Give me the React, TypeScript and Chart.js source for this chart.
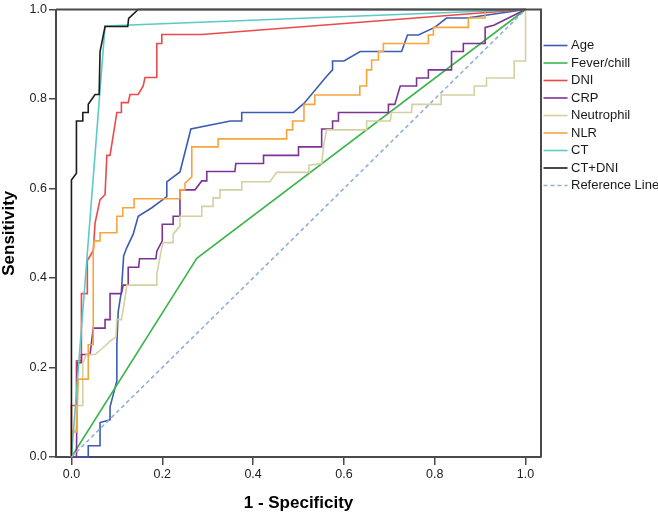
import React, { useEffect, useRef } from 'react';
import { Chart, registerables } from 'chart.js';

Chart.register(...registerables);

type Pt = [number, number];

const xTicks = [0, 0.2, 0.4, 0.6, 0.8, 1.0];
const yTicks = [0, 0.2, 0.4, 0.6, 0.8, 1.0];

const seriesNames = ['Age', 'Fever/chill', 'DNI', 'CRP', 'Neutrophil', 'NLR', 'CT', 'CT+DNI', 'Reference Line'];
const seriesColors = ['#3c5cb4', '#3db54c', '#ea4a4c', '#7d3394', '#d5d0a2', '#f6a53c', '#5ccac6', '#1c1c1c', '#8db0da'];

// ROC points: [1 - specificity, sensitivity]
const age: Pt[] = [
  [0, 0], [0.037, 0], [0.037, 0.025], [0.063, 0.025], [0.063, 0.077], [0.085, 0.083], [0.085, 0.112],
  [0.1, 0.17], [0.1, 0.252], [0.103, 0.325], [0.11, 0.37], [0.115, 0.45], [0.122, 0.468], [0.136, 0.498],
  [0.147, 0.538], [0.177, 0.557], [0.21, 0.582], [0.21, 0.615], [0.239, 0.637], [0.263, 0.733],
  [0.35, 0.751], [0.375, 0.751], [0.375, 0.77], [0.489, 0.77], [0.512, 0.79], [0.562, 0.851],
  [0.575, 0.865], [0.575, 0.885], [0.6, 0.885], [0.636, 0.906], [0.727, 0.906], [0.74, 0.943],
  [0.764, 0.943], [0.8, 0.96], [0.826, 0.981], [0.87, 0.981], [1, 1],
];
const feverChill: Pt[] = [[0, 0], [0.276, 0.444], [1, 1]];
const dni: Pt[] = [
  [0, 0], [0, 0.115], [0.011, 0.115], [0.011, 0.215], [0.022, 0.215], [0.022, 0.365], [0.035, 0.365],
  [0.035, 0.439], [0.048, 0.461], [0.052, 0.523], [0.063, 0.575], [0.074, 0.586], [0.078, 0.674],
  [0.085, 0.674], [0.1, 0.77], [0.11, 0.77], [0.11, 0.792], [0.125, 0.792], [0.129, 0.81], [0.147, 0.81],
  [0.158, 0.829], [0.162, 0.848], [0.188, 0.848], [0.188, 0.924], [0.199, 0.924], [0.199, 0.944],
  [0.287, 0.944], [1, 1],
];
const crp: Pt[] = [
  [0, 0], [0.011, 0], [0.013, 0.211], [0.022, 0.211], [0.022, 0.229], [0.041, 0.229], [0.048, 0.288],
  [0.074, 0.288], [0.074, 0.307], [0.085, 0.307], [0.085, 0.365], [0.11, 0.365], [0.114, 0.384],
  [0.125, 0.384], [0.125, 0.424], [0.148, 0.424], [0.15, 0.443], [0.186, 0.443], [0.188, 0.46],
  [0.2, 0.483], [0.2, 0.52], [0.224, 0.52], [0.224, 0.538], [0.239, 0.538], [0.239, 0.597],
  [0.272, 0.597], [0.287, 0.617], [0.298, 0.617], [0.298, 0.638], [0.36, 0.638], [0.362, 0.656],
  [0.423, 0.656], [0.423, 0.674], [0.5, 0.674], [0.5, 0.693], [0.551, 0.693], [0.551, 0.733],
  [0.575, 0.733], [0.575, 0.751], [0.588, 0.751], [0.588, 0.77], [0.698, 0.77], [0.698, 0.788],
  [0.712, 0.788], [0.724, 0.829], [0.76, 0.829], [0.76, 0.847], [0.786, 0.847], [0.786, 0.865],
  [0.837, 0.865], [0.837, 0.906], [0.863, 0.906], [0.863, 0.924], [0.911, 0.924], [0.911, 0.96],
  [0.93, 0.965], [1, 1],
];
const neutrophil: Pt[] = [
  [0, 0], [0, 0.06], [0.011, 0.06], [0.011, 0.115], [0.025, 0.115], [0.025, 0.21], [0.033, 0.229],
  [0.052, 0.229], [0.074, 0.248], [0.085, 0.259], [0.098, 0.268], [0.1, 0.307], [0.11, 0.307],
  [0.114, 0.33], [0.122, 0.384], [0.188, 0.384], [0.188, 0.409], [0.199, 0.468], [0.202, 0.479],
  [0.224, 0.479], [0.224, 0.498], [0.239, 0.516], [0.239, 0.538], [0.287, 0.538], [0.287, 0.56],
  [0.312, 0.56], [0.312, 0.579], [0.327, 0.579], [0.327, 0.597], [0.375, 0.597], [0.375, 0.615],
  [0.437, 0.615], [0.452, 0.636], [0.523, 0.636], [0.523, 0.652], [0.551, 0.656], [0.556, 0.7],
  [0.562, 0.731], [0.65, 0.731], [0.65, 0.751], [0.702, 0.751], [0.705, 0.77], [0.749, 0.77],
  [0.75, 0.788], [0.814, 0.788], [0.814, 0.809], [0.887, 0.809], [0.887, 0.829], [0.914, 0.829],
  [0.914, 0.847], [0.975, 0.847], [0.975, 0.885], [1, 0.885], [1, 1],
];
const nlr: Pt[] = [
  [0, 0], [0, 0.056], [0.011, 0.056], [0.015, 0.174], [0.037, 0.174], [0.037, 0.251], [0.048, 0.251],
  [0.048, 0.457], [0.05, 0.483], [0.063, 0.483], [0.063, 0.501], [0.1, 0.501], [0.1, 0.538],
  [0.113, 0.538], [0.113, 0.557], [0.138, 0.557], [0.138, 0.577], [0.239, 0.577], [0.239, 0.597],
  [0.25, 0.597], [0.25, 0.612], [0.265, 0.626], [0.265, 0.693], [0.323, 0.693], [0.323, 0.711],
  [0.474, 0.711], [0.474, 0.731], [0.487, 0.731], [0.487, 0.751], [0.512, 0.751], [0.512, 0.788],
  [0.536, 0.788], [0.536, 0.809], [0.635, 0.809], [0.635, 0.829], [0.65, 0.829], [0.65, 0.865],
  [0.661, 0.865], [0.661, 0.887], [0.676, 0.887], [0.676, 0.906], [0.687, 0.906], [0.687, 0.924],
  [0.786, 0.924], [0.786, 0.943], [0.797, 0.943], [0.797, 0.96], [0.874, 0.96], [0.874, 0.981],
  [0.911, 0.981], [0.911, 0.998], [1, 1],
];
const ct: Pt[] = [[0, 0], [0.074, 0.963], [1, 1]];
const ctDni: Pt[] = [
  [0, 0], [0, 0.619], [0.011, 0.634], [0.011, 0.751], [0.025, 0.751], [0.025, 0.77], [0.037, 0.77],
  [0.037, 0.788], [0.052, 0.81], [0.061, 0.81], [0.063, 0.906], [0.074, 0.962], [0.124, 0.962],
  [0.126, 0.98], [0.147, 1], [1, 1],
];
const referenceLine: Pt[] = [[0, 0], [1, 1]];

const seriesData: Pt[][] = [age, feverChill, dni, crp, neutrophil, nlr, ct, ctDni, referenceLine];

const FONT = "'Liberation Sans', Arial, Helvetica, sans-serif";
const AXIS_COLOR = '#4a4a4a';

const framePlugin = {
  id: 'frameAndLegend',
  afterDraw(chart: any) {
    const { ctx, chartArea } = chart;
    ctx.save();
    ctx.strokeStyle = AXIS_COLOR;
    ctx.lineWidth = 2;
    ctx.beginPath();
    ctx.moveTo(chartArea.left, chartArea.top);
    ctx.lineTo(chartArea.right, chartArea.top);
    ctx.lineTo(chartArea.right, chartArea.bottom);
    ctx.stroke();

    const x0 = chartArea.right + 2.5;
    let y = 45.5;
    ctx.font = `13px ${FONT}`;
    ctx.textBaseline = 'middle';
    ctx.textAlign = 'left';
    chart.data.datasets.forEach((ds: any) => {
      ctx.strokeStyle = ds.borderColor;
      ctx.lineWidth = ds.borderWidth;
      ctx.setLineDash(ds.borderDash || []);
      ctx.beginPath();
      ctx.moveTo(x0, y);
      ctx.lineTo(x0 + 24, y);
      ctx.stroke();
      ctx.setLineDash([]);
      ctx.fillStyle = '#1a1a1a';
      ctx.fillText(ds.label, x0 + 27.5, y);
      y += 17.5;
    });
    ctx.restore();
  },
};

export default function App() {
  const canvasRef = useRef<HTMLCanvasElement | null>(null);

  useEffect(() => {
    if (!canvasRef.current) return;
    const datasets = seriesNames.map((name, i) => ({
      label: name,
      data: seriesData[i].map(([x, y]) => ({ x, y })),
      showLine: true,
      borderColor: seriesColors[i],
      backgroundColor: seriesColors[i],
      borderWidth: 1.6,
      borderDash: name === 'Reference Line' ? [4, 3] : [],
      pointRadius: 0,
      pointHoverRadius: 0,
      tension: 0,
      fill: false,
      clip: false as any,
      order: seriesNames.length - i,
    }));

    const tickFont = { family: FONT, size: 12.5 };
    const titleFont = { family: FONT, size: 17, weight: 'bold' as const, lineHeight: 1 };

    const chart = new Chart(canvasRef.current, {
      type: 'scatter',
      data: { datasets },
      options: {
        animation: false,
        responsive: false,
        maintainAspectRatio: false,
        layout: { padding: { top: 4, right: 117, left: 0, bottom: 0 } },
        plugins: { legend: { display: false }, tooltip: { enabled: false } },
        scales: {
          x: {
            type: 'linear',
            min: -0.034,
            max: 1.034,
            afterBuildTicks: (s: any) => { s.ticks = xTicks.map((v) => ({ value: v })); },
            afterFit: (s: any) => { s.height = 57; },
            grid: { display: true, drawOnChartArea: false, drawTicks: true, tickLength: 8, color: AXIS_COLOR, lineWidth: 1.5 },
            border: { display: true, color: AXIS_COLOR, width: 2 },
            ticks: { font: tickFont, color: '#222', padding: 2, maxRotation: 0, autoSkip: false, callback: (v: any) => Number(v).toFixed(1) },
            title: { display: true, text: '1 - Specificity', font: titleFont, color: '#000', padding: { top: 0, bottom: 2 } },
          },
          y: {
            type: 'linear',
            min: 0,
            max: 1,
            afterBuildTicks: (s: any) => { s.ticks = yTicks.map((v) => ({ value: v })); },
            afterFit: (s: any) => { s.width = 56; },
            grid: { display: true, drawOnChartArea: false, drawTicks: true, tickLength: 7, color: AXIS_COLOR, lineWidth: 1.5 },
            border: { display: true, color: AXIS_COLOR, width: 2 },
            ticks: { font: tickFont, color: '#222', padding: 2, autoSkip: false, callback: (v: any) => Number(v).toFixed(1) },
            title: { display: true, text: 'Sensitivity', font: titleFont, color: '#000', padding: { top: 0.5, bottom: 0 } },
          },
        },
      },
      plugins: [framePlugin],
    });
    return () => chart.destroy();
  }, []);

  return (
    <div style={{ position: 'absolute', left: 0, top: 0, width: 658, height: 514, background: '#fff' }}>
      <canvas ref={canvasRef} width={658} height={514} style={{ display: 'block' }} />
    </div>
  );
}
